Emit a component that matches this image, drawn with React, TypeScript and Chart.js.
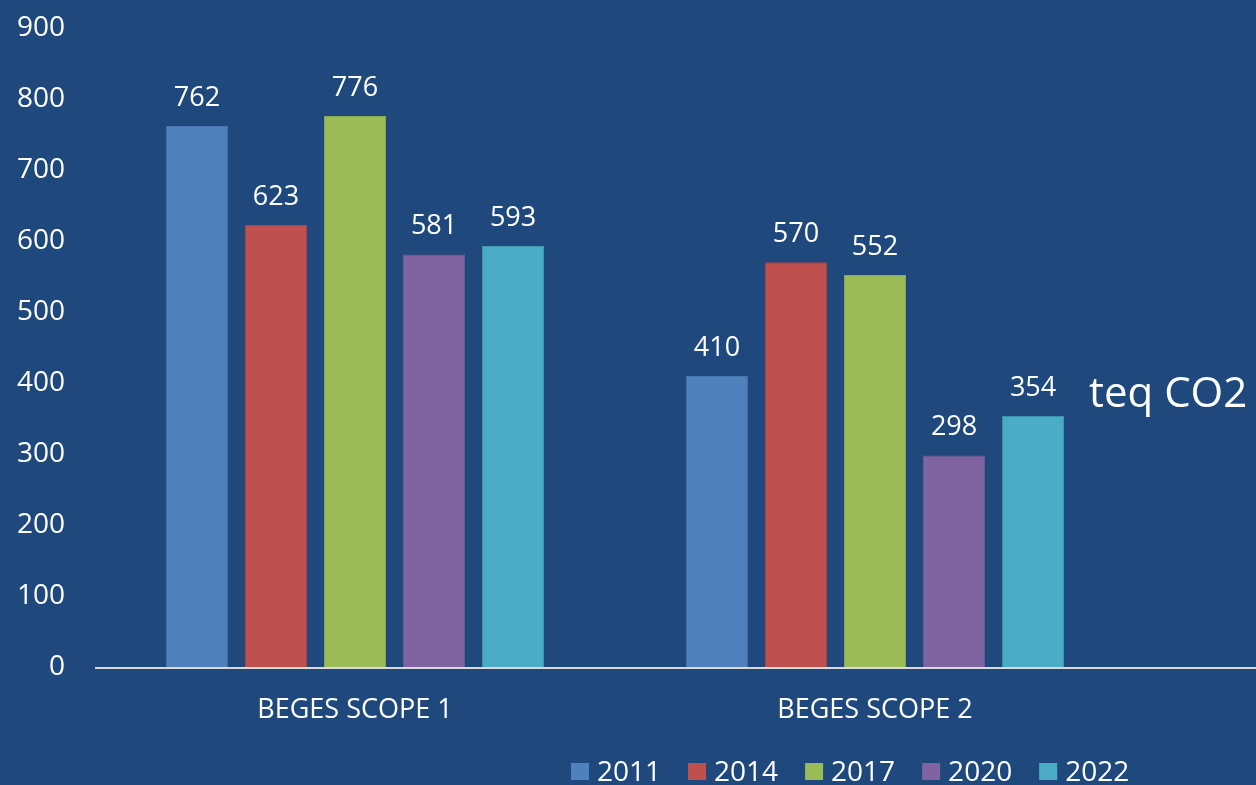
import React, { useEffect, useRef } from "react";
import { Chart, registerables } from "chart.js";

Chart.register(...registerables);

const categories = ["BEGES SCOPE 1", "BEGES SCOPE 2"];
const years = ["2011", "2014", "2017", "2020", "2022"];
const values2011 = [762, 410];
const values2014 = [623, 570];
const values2017 = [776, 552];
const values2020 = [581, 298];
const values2022 = [593, 354];
const seriesValues = [values2011, values2014, values2017, values2020, values2022];
const colors = ["#4F81BD", "#C0504D", "#9BBB59", "#8064A2", "#4BACC6"];
const borderColors = ["#4674AA", "#AD4845", "#8BA850", "#735A92", "#439BB2"];
const yTicks = [0, 100, 200, 300, 400, 500, 600, 700, 800, 900];
const unitLabel = "teq CO2";

const FONT = "'Open Sans'";
const BG = "#1F497D";

export default function App() {
  const ref = useRef<HTMLCanvasElement | null>(null);

  useEffect(() => {
    document.body.style.margin = "0";
    const canvas = ref.current;
    if (!canvas) return;

    const bgPlugin = {
      id: "bg",
      beforeDraw(chart: any) {
        const ctx = chart.ctx;
        ctx.save();
        ctx.fillStyle = BG;
        ctx.fillRect(0, 0, chart.width, chart.height);
        ctx.restore();
      },
    };

    const overlayPlugin = {
      id: "overlay",
      afterDraw(chart: any) {
        const ctx = chart.ctx;
        const y = chart.scales.y;
        const area = chart.chartArea;
        ctx.save();
        // axis line
        const y0 = y.getPixelForValue(0);
        ctx.strokeStyle = "#D9D9D9";
        ctx.lineWidth = 2;
        ctx.beginPath();
        ctx.moveTo(area.left, y0 + 1);
        ctx.lineTo(chart.width, y0 + 1);
        ctx.stroke();

        // data labels
        ctx.fillStyle = "#FFFFFF";
        ctx.font = `27px ${FONT}`;
        ctx.textAlign = "center";
        ctx.textBaseline = "alphabetic";
        chart.data.datasets.forEach((ds: any, i: number) => {
          const meta = chart.getDatasetMeta(i);
          meta.data.forEach((bar: any, j: number) => {
            ctx.fillText(String(ds.data[j]), bar.x, bar.y - 20);
          });
        });

        // unit label
        ctx.font = `42px ${FONT}`;
        ctx.textAlign = "left";
        ctx.fillText(unitLabel, 1089, 407);

        // legend
        ctx.font = `28px ${FONT}`;
        const boxW = 18;
        const boxH = 17;
        const gapBoxText = 8;
        const gapItems = 27;
        const widths = years.map((t) => boxW + gapBoxText + ctx.measureText(t).width);
        let x = 571;
        const baseline = 781;
        years.forEach((t, i) => {
          ctx.fillStyle = colors[i];
          ctx.fillRect(x, baseline - boxH - 1, boxW, boxH);
          ctx.fillStyle = "#FFFFFF";
          ctx.fillText(t, x + boxW + gapBoxText, baseline);
          x += widths[i] + gapItems;
        });
        ctx.restore();
      },
    };

    const chart = new Chart(canvas, {
      type: "bar",
      data: {
        labels: categories,
        datasets: years.map((yr, i) => ({
          label: yr,
          data: seriesValues[i],
          backgroundColor: colors[i],
          borderColor: borderColors[i],
          borderWidth: 1,
          categoryPercentage: 0.76,
          barPercentage: 0.785,
        })),
      },
      options: {
        animation: false,
        responsive: false,
        maintainAspectRatio: false,
        devicePixelRatio: 1,
        layout: { padding: { top: 28, right: 121, bottom: 0, left: 0 } },
        plugins: {
          legend: { display: false },
          title: { display: false },
          tooltip: { enabled: false },
        },
        scales: {
          x: {
            grid: { display: false, drawTicks: false },
            border: { display: false },
            ticks: {
              color: "#FFFFFF",
              font: { family: FONT, size: 27 },
              padding: 27,
            },
            afterFit(scale: any) {
              scale.height = 118;
            },
          },
          y: {
            min: 0,
            max: 900,
            grid: { display: false, drawTicks: false },
            border: { display: false },
            afterBuildTicks(scale: any) {
              scale.ticks = yTicks.map((v) => ({ value: v }));
            },
            ticks: {
              color: "#FFFFFF",
              font: { family: FONT, size: 28 },
              padding: 30,
            },
            afterFit(scale: any) {
              scale.width = 95;
              scale.paddingTop = 0;
              scale.paddingBottom = 0;
            },
          },
        },
      },
      plugins: [bgPlugin, overlayPlugin],
    });

    return () => chart.destroy();
  }, []);

  return (
    <div style={{ width: 1256, height: 785, background: BG }}>
      <canvas ref={ref} width={1256} height={785} style={{ display: "block", width: 1256, height: 785 }} />
    </div>
  );
}
